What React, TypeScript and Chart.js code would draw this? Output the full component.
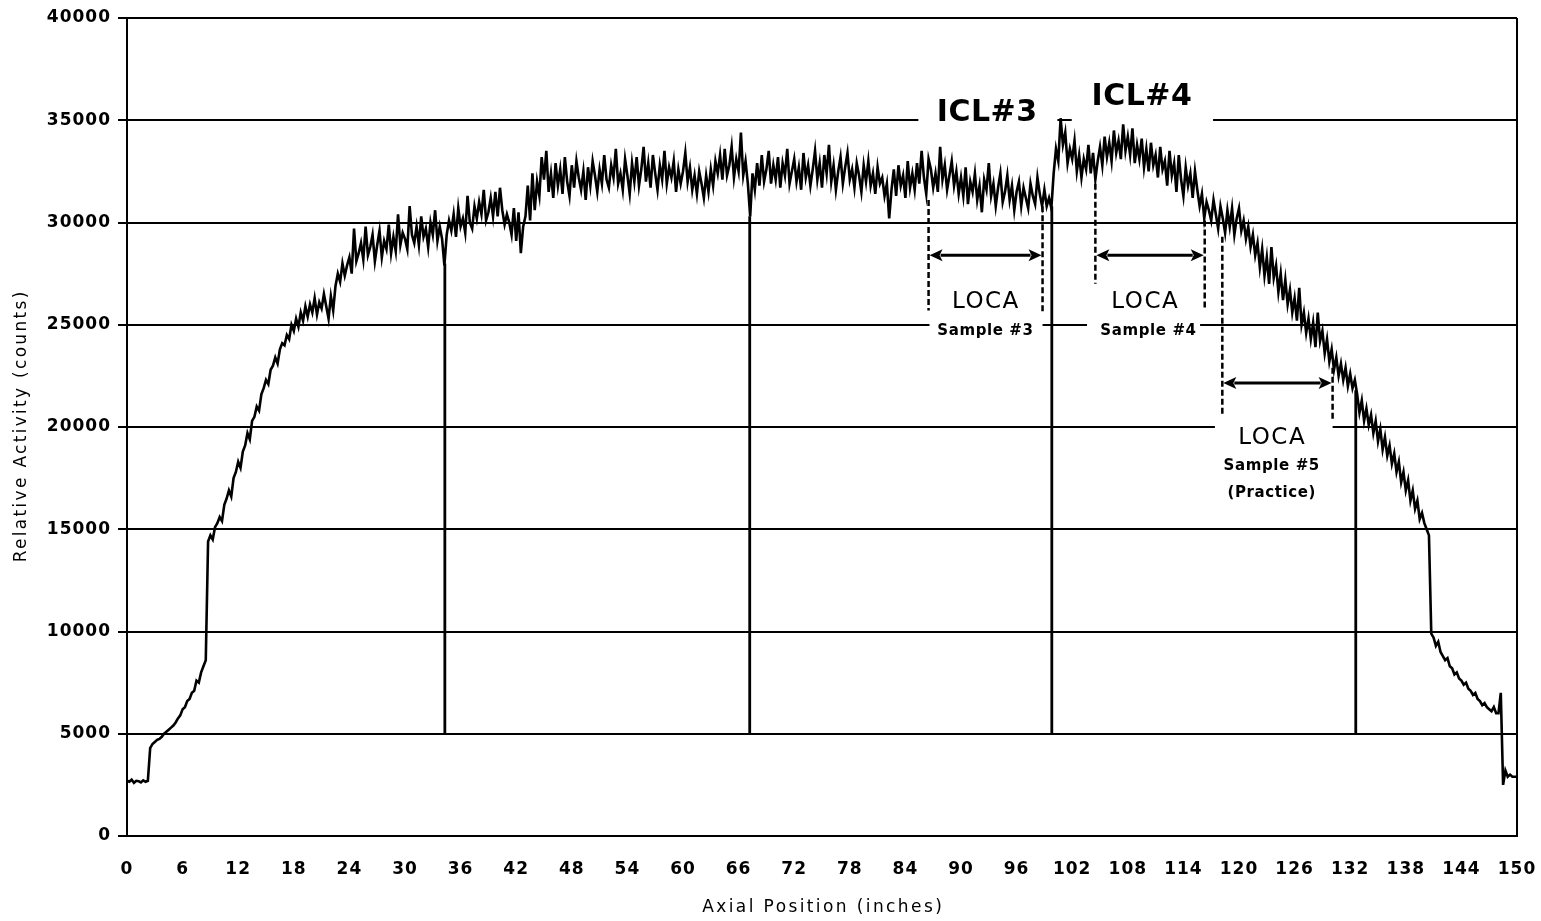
import React, { useEffect, useRef } from 'react';
import { Chart, registerables } from 'chart.js';

Chart.register(...registerables);

// ---- axes ----
const X_MIN = 0;
const X_MAX = 150;
const X_STEP = 6;
const Y_MIN = 0;
const Y_MAX = 40000;
const Y_STEP = 5000;

// ---- measured trace (relative activity, counts), one reading every 0.25 inch ----
const SAMPLE_SPACING = 0.25;
const activity: number[] = [
  // 0 - 5 in
  2700, 2650, 2750, 2600, 2700, 2680, 2620, 2720, 2650, 2700, 4300, 4500, 4600, 4700, 4750, 4850, 5000, 5100, 5200, 5300,
  // 5 - 10
  5400, 5550, 5750, 5900, 6200, 6300, 6600, 6700, 7000, 7100, 7600, 7500, 8000, 8300, 8600, 14400, 14700, 14500, 15100, 15300,
  // 10 - 15
  15600, 15400, 16200, 16500, 16900, 16600, 17500, 17800, 18300, 18000, 18800, 19100, 19700, 19400, 20300, 20500, 21000, 20800, 21600, 21900,
  // 15 - 20
  22300, 22100, 22800, 23000, 23400, 23100, 23800, 24100, 24000, 24500, 24300, 25000, 24700, 25300, 24900, 25600, 25200, 25900, 25400, 26000,
  // 20 - 25
  25600, 26300, 25500, 26100, 25800, 26500, 25900, 25300, 26400, 25700, 26900, 27500, 27100, 28000, 27400, 27900, 28300, 27500, 29700, 28100,
  // 25 - 30
  28500, 29000, 28200, 29800, 28400, 28800, 29400, 28100, 28900, 29600, 28300, 29100, 28700, 29900, 28500, 29300, 28600, 30400, 28900, 29500,
  // 30 - 35
  29200, 28700, 30800, 29400, 29000, 29800, 28900, 30300, 29300, 29700, 28800, 30000, 29400, 30600, 29100, 29800, 29200, 27900, 29400, 30100,
  // 35 - 40
  29600, 30400, 29300, 30700, 29800, 30200, 29500, 31300, 30000, 29700, 30800, 30200, 31000, 30400, 31600, 30100, 30500, 31200, 30300, 31500,
  // 40 - 45
  30300, 31700, 30600, 29900, 30400, 30000, 29400, 30700, 29100, 30500, 28500, 29800, 30300, 31800, 30100, 32400, 30600, 32000, 31300, 33200,
  // 45 - 50
  32100, 33500, 31500, 32400, 31200, 32900, 31800, 32600, 31400, 33200, 32000, 31300, 32800, 31700, 33000, 32200, 31600, 32500, 31100, 32700,
  // 50 - 55
  31800, 33000, 32300, 31500, 32600, 31900, 33300, 32100, 31700, 32800, 32200, 33600, 31900, 32400, 31600, 33100, 32300, 31400, 32900, 32000,
  // 55 - 60
  33200, 31800, 32600, 33700, 32000, 32900, 31700, 33300, 32400, 31600, 32800, 32100, 33500, 31900, 32700, 32200, 33000, 31500, 32600, 31900,
  // 60 - 65
  32500, 33400, 32000, 32700, 31600, 32300, 31400, 32500, 31900, 31200, 32300, 31500, 32600, 31800, 33000, 32400, 33300, 32100, 33600, 32300,
  // 65 - 70
  32800, 33700, 32200, 33100, 32500, 34400, 32300, 33000, 31900, 30300, 32400, 31600, 32900, 31800, 33300, 32000, 32600, 33500, 31900, 32800,
  // 70 - 75
  32100, 33200, 31700, 32900, 32300, 33600, 31900, 32500, 33100, 32000, 32700, 31600, 33400, 32200, 32800, 31800, 32600, 33500, 32100, 32900,
  // 75 - 80
  31700, 33300, 32400, 33800, 32000, 32800, 31600, 32500, 33200, 31900, 32700, 33400, 32100, 32600, 31700, 32900, 32300, 31500, 32800, 32000,
  // 80 - 85
  33000, 31800, 32400, 31400, 32700, 31900, 32200, 31300, 31900, 30200, 31600, 32600, 31300, 32800, 31800, 32300, 31200, 33000, 31700, 32400,
  // 85 - 90
  31600, 32900, 31900, 33500, 32200, 31400, 33100, 32600, 31700, 32400, 31500, 33700, 32100, 32800, 31600, 32300, 33000, 31800, 32500, 31400,
  // 90 - 95
  32200, 31300, 32700, 30900, 32000, 31500, 32400, 31100, 31800, 30500, 32100, 31600, 32900, 31300, 31900, 30800, 31700, 32400, 31000, 31500,
  // 95 - 100
  32300, 31100, 31800, 30600, 31500, 32000, 30800, 31700, 31200, 30700, 31900, 31300, 30900, 32200, 31400, 30800, 31600, 30800, 31200, 30700,
  // 100 - 105
  32400, 33600, 33000, 35100, 33800, 34400, 32900, 33600, 33100, 34000, 32500, 33300, 32200, 33100, 32600, 33800, 32400, 33400, 32100, 33000,
  // 105 - 110
  33700, 32800, 34200, 33200, 33900, 33000, 34500, 33400, 34000, 33100, 34800, 33500, 34200, 33300, 34600, 32900, 33800, 33100, 34100, 32700,
  // 110 - 115
  33600, 32500, 33900, 32800, 33300, 32200, 33700, 32600, 33000, 31800, 33500, 32300, 32900, 31500, 33300, 32100, 31300, 32700, 31800, 32400,
  // 115 - 120
  31200, 32500, 31600, 30800, 31400, 30200, 31000, 30600, 30100, 31100, 30400, 29700, 30800, 30200, 29500, 30600, 29800, 30700, 29400, 30200,
  // 120 - 125
  30700, 29600, 30100, 29200, 29800, 28800, 29400, 28400, 29000, 27800, 28700, 27400, 28300, 27000, 28800, 27300, 27900, 26600, 27500, 26200,
  // 125 - 130
  27200, 26000, 26700, 25600, 26300, 25200, 26800, 25000, 25600, 24600, 25300, 24300, 25100, 23900, 25600, 24200, 24700, 23600, 24300, 23200,
  // 130 - 135
  23800, 22800, 23400, 22500, 23100, 22300, 22900, 22000, 22600, 21900, 22300, 21600, 20700, 21300, 20300, 20900, 20100, 20600, 19700, 20300,
  // 135 - 140
  19300, 19900, 18900, 19500, 18600, 19100, 18200, 18700, 17800, 18300, 17300, 17800, 16900, 17400, 16400, 16900, 16000, 16400, 15500, 15800,
  // 140 - 145
  15300, 15000, 14700, 9900, 9700, 9300, 9500, 9000, 8800, 8600, 8700, 8300, 8200, 7900, 8000, 7700, 7600, 7400, 7500, 7200,
  // 145 - 150
  7100, 6900, 7000, 6700, 6600, 6400, 6500, 6300, 6200, 6100, 6300, 6000, 6000, 7000, 2500, 3200, 2900, 3000, 2900, 2900,
  2900,
];
const positions: number[] = activity.map((_, i) => i * SAMPLE_SPACING);

// vertical drop-outs of the trace down to 5000 counts
const dropPositions: number[] = [34.3, 67.2, 99.8, 132.6];
const dropTops: number[] = [28000, 30300, 30800, 21800];
const DROP_BASE = 5000;

// ---- annotations (data units) ----
const textNotes = [
  { text: 'ICL#3', x: 92.8, y: 35350, font: 'bold 30px "DejaVu Sans"', spacing: 0.5 },
  { text: 'ICL#4', x: 109.5, y: 36140, font: 'bold 30px "DejaVu Sans"', spacing: 0.5 },
  { text: 'LOCA', x: 92.6, y: 26110, font: '23px "DejaVu Sans"', spacing: 1.5 },
  { text: 'Sample #3', x: 92.6, y: 24700, font: 'bold 15px "DejaVu Sans"', spacing: 0.6 },
  { text: 'LOCA', x: 109.8, y: 26110, font: '23px "DejaVu Sans"', spacing: 1.5 },
  { text: 'Sample #4', x: 110.2, y: 24700, font: 'bold 15px "DejaVu Sans"', spacing: 0.6 },
  { text: 'LOCA', x: 123.5, y: 19450, font: '23px "DejaVu Sans"', spacing: 1.5 },
  { text: 'Sample #5', x: 123.5, y: 18100, font: 'bold 15px "DejaVu Sans"', spacing: 0.6 },
  { text: '(Practice)', x: 123.5, y: 16780, font: 'bold 15px "DejaVu Sans"', spacing: 0.6 },
];
const gridGaps = [
  { y: 35000, x0: 85.4, x1: 100.4 },
  { y: 35000, x0: 101.95, x1: 117.2 },
  { y: 25000, x0: 86.6, x1: 98.8 },
  { y: 25000, x0: 103.6, x1: 115.8 },
  { y: 20000, x0: 117.4, x1: 130.1 },
];
const dashedMarks = [
  { x: 86.5, y0: 31100, y1: 25700 },
  { x: 98.8, y0: 30800, y1: 25600 },
  { x: 104.5, y0: 31900, y1: 27000 },
  { x: 116.3, y0: 30100, y1: 25700 },
  { x: 118.2, y0: 29300, y1: 20500 },
  { x: 130.1, y0: 22900, y1: 20300 },
];
const arrows = [
  { y: 28400, x0: 86.5, x1: 98.8 },
  { y: 28400, x0: 104.5, x1: 116.3 },
  { y: 22150, x0: 118.2, x1: 130.1 },
];

const X_TITLE = 'Axial Position (inches)';
const Y_TITLE = 'Relative Activity (counts)';

function drawSpacedText(ctx: CanvasRenderingContext2D, text: string, x: number, y: number, font: string, spacing: number) {
  ctx.font = font;
  (ctx as any).letterSpacing = spacing + 'px';
  ctx.textAlign = 'center';
  ctx.textBaseline = 'middle';
  ctx.fillStyle = '#000';
  ctx.fillText(text, x + spacing / 2, y);
}

const notesPlugin = {
  id: 'notesPlugin',
  beforeDraw(chart: any) {
    (chart.ctx as any).letterSpacing = '1px';
  },
  beforeDatasetsDraw(chart: any) {
    const { ctx, scales } = chart;
    const xs = scales.x;
    const ys = scales.y;
    ctx.save();
    ctx.fillStyle = '#fff';
    for (const g of gridGaps) {
      const a = xs.getPixelForValue(g.x0);
      const b = xs.getPixelForValue(g.x1);
      const py = ys.getPixelForValue(g.y);
      ctx.fillRect(a, py - 3, b - a, 6);
    }
    const { right, top, bottom } = chart.chartArea;
    ctx.strokeStyle = '#000';
    ctx.lineWidth = 2;
    ctx.beginPath();
    ctx.moveTo(right, top);
    ctx.lineTo(right, bottom);
    ctx.stroke();
    ctx.restore();
  },
  afterDatasetsDraw(chart: any) {
    const { ctx, scales } = chart;
    const xs = scales.x;
    const ys = scales.y;
    ctx.save();
    ctx.strokeStyle = '#000';
    ctx.fillStyle = '#000';
    ctx.lineWidth = 2.5;
    ctx.setLineDash([6, 3]);
    for (const d of dashedMarks) {
      const px = xs.getPixelForValue(d.x);
      ctx.beginPath();
      ctx.moveTo(px, ys.getPixelForValue(d.y0));
      ctx.lineTo(px, ys.getPixelForValue(d.y1));
      ctx.stroke();
    }
    ctx.setLineDash([]);
    for (const a of arrows) {
      const p0 = xs.getPixelForValue(a.x0) + 1;
      const p1 = xs.getPixelForValue(a.x1) - 1;
      const py = ys.getPixelForValue(a.y);
      const head = 13;
      const hw = 6;
      ctx.lineWidth = 3;
      ctx.beginPath();
      ctx.moveTo(p0 + head - 2, py);
      ctx.lineTo(p1 - head + 2, py);
      ctx.stroke();
      ctx.beginPath();
      ctx.moveTo(p0, py);
      ctx.lineTo(p0 + head, py - hw);
      ctx.lineTo(p0 + head - 3, py);
      ctx.lineTo(p0 + head, py + hw);
      ctx.closePath();
      ctx.fill();
      ctx.beginPath();
      ctx.moveTo(p1, py);
      ctx.lineTo(p1 - head, py - hw);
      ctx.lineTo(p1 - head + 3, py);
      ctx.lineTo(p1 - head, py + hw);
      ctx.closePath();
      ctx.fill();
    }
    for (const t of textNotes) {
      drawSpacedText(ctx, t.text, xs.getPixelForValue(t.x), ys.getPixelForValue(t.y), t.font, t.spacing);
    }
    ctx.restore();
  },
  afterDraw(chart: any) {
    const { ctx, chartArea } = chart;
    ctx.save();
    const cx = (chartArea.left + chartArea.right) / 2;
    drawSpacedText(ctx, X_TITLE, cx, 908, '17px "DejaVu Sans"', 2.4);
    ctx.translate(22, (chartArea.top + chartArea.bottom) / 2);
    ctx.rotate(-Math.PI / 2);
    drawSpacedText(ctx, Y_TITLE, 0, 0, '17px "DejaVu Sans"', 2.3);
    ctx.restore();
  },
};

export default function App() {
  const canvasRef = useRef<HTMLCanvasElement | null>(null);

  useEffect(() => {
    document.body.style.margin = '0';
    document.body.style.overflow = 'hidden';
    const canvas = canvasRef.current;
    if (!canvas) return;

    const traceData = positions.map((x, i) => ({ x, y: activity[i] }));
    const dropData: { x: number; y: number | null }[] = [];
    dropPositions.forEach((x, i) => {
      dropData.push({ x, y: DROP_BASE });
      dropData.push({ x, y: dropTops[i] });
      dropData.push({ x, y: null });
    });

    const tickFont = { family: 'DejaVu Sans', size: 17, weight: 'bold' as const };

    const chart = new Chart(canvas, {
      type: 'line',
      data: {
        datasets: [
          {
            label: 'Relative Activity',
            data: traceData,
            borderColor: '#000',
            borderWidth: 2.6,
            pointRadius: 0,
            tension: 0,
            fill: false,
          },
          {
            label: 'Drop-outs',
            data: dropData as any,
            borderColor: '#000',
            borderWidth: 2.8,
            pointRadius: 0,
            tension: 0,
            fill: false,
            spanGaps: false,
          },
        ],
      },
      options: {
        responsive: false,
        animation: false,
        devicePixelRatio: 1,
        events: [],
        layout: { padding: { top: 18, right: 24, left: 0, bottom: 0 } },
        plugins: {
          legend: { display: false },
          tooltip: { enabled: false },
        },
        scales: {
          x: {
            type: 'linear',
            min: X_MIN,
            max: X_MAX,
            ticks: {
              stepSize: X_STEP,
              color: '#000',
              font: tickFont,
              padding: 23,
              maxRotation: 0,
              autoSkip: false,
            },
            grid: { display: false, drawTicks: false },
            border: { display: true, color: '#000', width: 2 },
            afterFit: (scale: any) => {
              scale.height = 85;
              scale.paddingLeft = 0;
              scale.paddingRight = 0;
            },
          },
          y: {
            type: 'linear',
            min: Y_MIN,
            max: Y_MAX,
            ticks: {
              stepSize: Y_STEP,
              color: '#000',
              font: tickFont,
              padding: 7,
              callback: (v: any) => String(v),
            },
            grid: { color: '#000', lineWidth: 2, drawTicks: true, tickLength: 9 },
            border: { display: true, color: '#000', width: 2 },
            afterFit: (scale: any) => {
              scale.width = 127;
              scale.paddingTop = 0;
              scale.paddingBottom = 0;
            },
          },
        },
      },
      plugins: [notesPlugin],
    });

    return () => {
      chart.destroy();
    };
  }, []);

  return (
    <div style={{ position: 'fixed', left: 0, top: 0, width: 1541, height: 921, background: '#fff' }}>
      <canvas ref={canvasRef} width={1541} height={921} style={{ width: 1541, height: 921, display: 'block' }} />
    </div>
  );
}
